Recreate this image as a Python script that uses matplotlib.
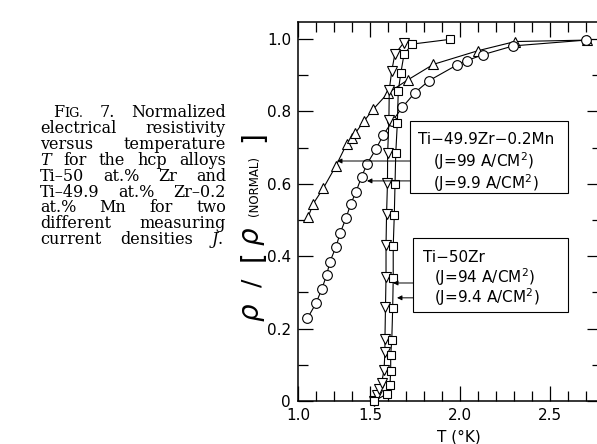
import numpy as np
import matplotlib
matplotlib.use("Agg")
import matplotlib.pyplot as plt
from matplotlib.ticker import FixedLocator
from matplotlib.patches import Rectangle

# ---------------- data ----------------
# Ti-49.9Zr-0.2Mn, J = 99 A/cm^2 (open up-triangles)
tri_T = [1.069, 1.106, 1.176, 1.264, 1.338, 1.373, 1.396, 1.458, 1.518,
         1.602, 1.713, 1.852, 2.102, 2.306, 2.704]
tri_rho = [0.507, 0.545, 0.588, 0.650, 0.710, 0.727, 0.739, 0.773, 0.806,
           0.852, 0.888, 0.930, 0.968, 0.993, 0.997]

# Ti-49.9Zr-0.2Mn, J = 9.9 A/cm^2 (open circles)
circ_T = [1.065, 1.125, 1.165, 1.199, 1.222, 1.264, 1.292, 1.333, 1.366,
          1.403, 1.442, 1.481, 1.532, 1.574, 1.624, 1.679, 1.750, 1.828,
          1.982, 2.037, 2.129, 2.296, 2.700]
circ_rho = [0.228, 0.270, 0.309, 0.348, 0.385, 0.426, 0.463, 0.505, 0.544,
            0.578, 0.620, 0.656, 0.695, 0.735, 0.773, 0.811, 0.852, 0.885,
            0.928, 0.940, 0.957, 0.981, 0.997]

# Ti-50Zr, J = 94 A/cm^2 (open down-triangles)
dtri_T = [1.522, 1.537, 1.552, 1.565, 1.578, 1.583, 1.583, 1.586, 1.589,
          1.589, 1.592, 1.597, 1.598, 1.605, 1.607, 1.621, 1.638, 1.688]
dtri_rho = [0.000, 0.017, 0.032, 0.051, 0.086, 0.136, 0.170, 0.259, 0.343,
            0.431, 0.516, 0.601, 0.684, 0.776, 0.860, 0.912, 0.958, 0.990]

# Ti-50Zr, J = 9.4 A/cm^2 (open squares)
sq_T = [1.522, 1.593, 1.611, 1.615, 1.615, 1.621, 1.626, 1.629, 1.629,
        1.635, 1.639, 1.643, 1.652, 1.657, 1.671, 1.689, 1.735, 1.944]
sq_rho = [0.000, 0.019, 0.044, 0.084, 0.127, 0.169, 0.256, 0.339, 0.428,
          0.514, 0.599, 0.684, 0.769, 0.856, 0.905, 0.958, 0.986, 0.999]

x_major = [1.0, 1.5, 2.0, 2.5]
x_labels = ["1.0", "1.5", "2.0", "2.5"]
x_minor = [1.125, 1.25, 1.375, 1.6, 1.7, 1.8, 1.9, 2.1, 2.2, 2.3, 2.4, 2.6, 2.7]
y_major = [0.0, 0.2, 0.4, 0.6, 0.8, 1.0]
y_labels = ["0", "0.2", "0.4", "0.6", "0.8", "1.0"]
y_minor = [0.1, 0.3, 0.5, 0.7, 0.9]

box1_title = "Ti\u221249.9Zr\u22120.2Mn"
box1_lines = ["(J=99 A/CM$^{2}$)", "(J=9.9 A/CM$^{2}$)"]
box2_title = "Ti\u221250Zr"
box2_lines = ["(J=94 A/CM$^{2}$)", "(J=9.4 A/CM$^{2}$)"]

# ---------------- figure ----------------
W, H = 597, 444
fig = plt.figure(figsize=(W / 100, H / 100), dpi=100)
fig.patch.set_facecolor("white")


def fx(px):
    return px / W


def fy(py):
    return 1 - py / H


ax = fig.add_axes([fx(298), fy(401), (602 - 298) / W, (401 - 22) / H])


# the printed T axis is compressed below 1.5 K
def fwd(x):
    x = np.asarray(x, float)
    return np.where(x < 1.5, 1.5 - (1.5 - x) * 0.8, x)


def inv(t):
    t = np.asarray(t, float)
    return np.where(t < 1.5, 1.5 - (1.5 - t) / 0.8, t)


ax.set_xscale("function", functions=(fwd, inv))
ax.set_xlim(1.0, 1.1 + (602 - 298) / 180)
ax.set_ylim(0, 1.047)

lw = 0.8
mk = dict(markerfacecolor="white", markeredgecolor="black", markeredgewidth=0.8,
          color="black", linewidth=lw, clip_on=False, zorder=3)
ax.plot(tri_T, tri_rho, marker="^", markersize=6.5, **mk)
ax.plot(circ_T, circ_rho, marker="o", markersize=7, **mk)
ax.plot(dtri_T, dtri_rho, marker="v", markersize=6.5, **mk)
ax.plot(sq_T, sq_rho, marker="s", markersize=5.5, **mk)

ax.xaxis.set_major_locator(FixedLocator(x_major))
ax.xaxis.set_minor_locator(FixedLocator(x_minor))
ax.set_xticklabels(x_labels)
ax.yaxis.set_major_locator(FixedLocator(y_major))
ax.yaxis.set_minor_locator(FixedLocator(y_minor))
ax.set_yticklabels(y_labels)
ax.tick_params(which="both", direction="in", top=True, right=True,
               labelsize=11, width=0.9, pad=5)
ax.tick_params(which="major", length=11)
ax.tick_params(which="minor", length=7)
for s in ax.spines.values():
    s.set_linewidth(1.1)

# arrows
arrow_kw = dict(arrowstyle="-|>", lw=0.7, color="black", mutation_scale=7,
                shrinkA=0, shrinkB=0)
ax.annotate("", xy=(1.271, 0.663), xytext=(1.835, 0.663), arrowprops=arrow_kw)
ax.annotate("", xy=(1.479, 0.608), xytext=(1.835, 0.608), arrowprops=arrow_kw)
ax.annotate("", xy=(1.628, 0.326), xytext=(1.835, 0.326), arrowprops=arrow_kw)
ax.annotate("", xy=(1.650, 0.285), xytext=(1.835, 0.285), arrowprops=arrow_kw)

# boxes
for (x0, y0, x1, y1) in [(410, 121, 568, 193), (413, 238, 568, 312)]:
    fig.add_artist(Rectangle((fx(x0), fy(y1)), (x1 - x0) / W, (y1 - y0) / H,
                             transform=fig.transFigure, fill=True,
                             facecolor="white", edgecolor="black", lw=0.8,
                             zorder=2))
tkw = dict(fontsize=11, va="baseline", ha="left", family="DejaVu Sans", zorder=5)
fig.text(fx(418), fy(143.5), box1_title, **tkw)
fig.text(fx(433), fy(167.5), box1_lines[0], **tkw)
fig.text(fx(433), fy(188.5), box1_lines[1], **tkw)
fig.text(fx(423), fy(262.5), box2_title, **tkw)
fig.text(fx(434), fy(283.5), box2_lines[0], **tkw)
fig.text(fx(434), fy(303.5), box2_lines[1], **tkw)

# axis labels
fig.text(fx(459), fy(437), "T (\u00b0K)", fontsize=11, ha="center", va="center")
ykw = dict(rotation=90, ha="center", va="center", color="black")
fig.text(fx(253), fy(312), r"$\rho$", fontsize=20, **ykw)
fig.text(fx(252), fy(283), "/", fontsize=18, **ykw)
fig.text(fx(253), fy(256), "[", fontsize=20, **ykw)
fig.text(fx(253), fy(236), r"$\rho$", fontsize=20, **ykw)
fig.text(fx(255), fy(186), "(NORMAL)", fontsize=8.5, **ykw)
fig.text(fx(253), fy(137), "]", fontsize=20, **ykw)

# caption (justified serif text)
CS = 11.5
cap_lines = [
    ([[("F", CS, "normal"), ("IG.", CS * 0.8, "normal")], "7.", "Normalized"], 53, 226),
    (["electrical", "resistivity"], 40, 226),
    (["versus", "temperature"], 40, 226),
    ([[("T", CS, "italic")], "for", "the", "hcp", "alloys"], 40, 226),
    (["Ti\u201350", "at.%", "Zr", "and"], 40, 226),
    (["Ti\u201349.9", "at.%", "Zr\u20130.2"], 40, 226),
    (["at.%", "Mn", "for", "two"], 40, 226),
    (["different", "measuring"], 40, 226),
    (["current", "densities", [("J", CS, "italic"), (".", CS, "normal")]], 40, 223),
]
base0, step = 117, 15.9
fig.canvas.draw()
rend = fig.canvas.get_renderer()
for i, (words, xl, xr) in enumerate(cap_lines):
    yb = base0 + i * step
    objs, widths = [], []
    for w in words:
        segs = w if isinstance(w, list) else [(w, CS, "normal")]
        so, tot = [], 0.0
        for s, size, style in segs:
            t = fig.text(0, 0, s, family="DejaVu Serif", fontsize=size,
                         fontstyle=style, va="baseline", ha="left")
            bw = t.get_window_extent(rend).width
            so.append((t, bw))
            tot += bw
        objs.append(so)
        widths.append(tot)
    gap = (xr - xl - sum(widths)) / max(len(words) - 1, 1)
    x = xl
    for so, wd in zip(objs, widths):
        xx = x
        for t, bw in so:
            t.set_position((fx(xx), fy(yb)))
            xx += bw
        x += wd + gap

fig.savefig("out.png", dpi=100, facecolor="white")
